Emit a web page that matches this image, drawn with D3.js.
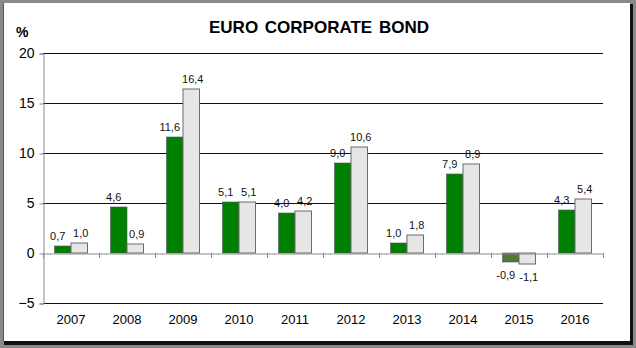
<!DOCTYPE html>
<html><head><meta charset="utf-8">
<script src="https://cdn.jsdelivr.net/npm/d3@7"></script>
<style>html,body{margin:0;padding:0;background:#fff;}svg{display:block;}</style>
</head><body>
<script>
const years = ["2007","2008","2009","2010","2011","2012","2013","2014","2015","2016"];
const seriesA = [0.7, 4.6, 11.6, 5.1, 4.0, 9.0, 1.0, 7.9, -0.9, 4.3];
const seriesB = [1.0, 0.9, 16.4, 5.1, 4.2, 10.6, 1.8, 8.9, -1.1, 5.4];
const yTicks = [-5, 0, 5, 10, 15, 20];
const title = "EURO CORPORATE BOND";

(function () {
const W = 636, H = 348;
const svg = d3.select("body").append("svg").attr("width", W).attr("height", H);
const font = "Arial, Liberation Sans, sans-serif";

// frame
svg.append("rect").attr("x",0).attr("y",0).attr("width",W).attr("height",H).attr("fill","#8a8a8a");
svg.append("rect").attr("x",4).attr("y",4).attr("width",629).attr("height",341).attr("fill","#111");
svg.append("rect").attr("x",3).attr("y",3).attr("width",627).attr("height",338).attr("fill","#fff");
svg.append("line").attr("x1",3.5).attr("x2",3.5).attr("y1",3).attr("y2",341).attr("stroke","#555");

const pL = 43, pR = 603, pT = 53, pB = 303;
const x0 = d3.scaleBand().domain(years).range([pL, pR]).padding(0);
const bw = x0.bandwidth() * 0.295;
const y = d3.scaleLinear().domain([-5, 20]).range([pB, pT]);

// gridlines
svg.append("g").selectAll("line").data(yTicks.filter(d => d !== 0)).join("line")
  .attr("x1", pL).attr("x2", pR)
  .attr("y1", d => Math.round(y(d)) + 0.5).attr("y2", d => Math.round(y(d)) + 0.5)
  .attr("stroke", "#111").attr("stroke-width", 1);

// y axis
const yAxis = d3.axisLeft(y).tickValues(yTicks).tickSize(4).tickPadding(5).tickFormat(d3.format("d"));
const gy = svg.append("g").attr("transform", `translate(${pL + 0.5},0.5)`).call(yAxis);
gy.select(".domain").attr("stroke", "#888");
gy.selectAll(".tick line").attr("stroke", "#888");
gy.selectAll("text").attr("font-family", font).attr("font-size", 14).attr("fill", "#000");

// bars
const g = svg.append("g");
years.forEach((yr, i) => {
  const cx = x0(yr) + x0.bandwidth() / 2;
  const a = seriesA[i], b = seriesB[i];
  g.append("rect").attr("x", cx - bw).attr("width", bw)
    .attr("y", y(Math.max(0, a))).attr("height", Math.abs(y(a) - y(0)))
    .attr("fill", a < 0 ? "#4e7b36" : "#008000").attr("stroke", "#555").attr("stroke-width", 0.6);
  g.append("rect").attr("x", cx).attr("width", bw)
    .attr("y", y(Math.max(0, b))).attr("height", Math.abs(y(b) - y(0)))
    .attr("fill", "#e6e6e6").attr("stroke", "#6a6a6a").attr("stroke-width", 1);
});

// zero axis with category ticks
const xAxis = d3.axisBottom(x0).tickSize(0).tickFormat("");
const gz = svg.append("g").attr("transform", `translate(0,${Math.round(y(0)) + 0.5})`).call(xAxis);
gz.select(".domain").attr("stroke", "#888");
svg.append("g").selectAll("line").data(years.concat(["end"])).join("line")
  .attr("x1", (d, i) => Math.round(pL + i * x0.bandwidth()) + 0.5)
  .attr("x2", (d, i) => Math.round(pL + i * x0.bandwidth()) + 0.5)
  .attr("y1", Math.round(y(0))).attr("y2", Math.round(y(0)) + 5)
  .attr("stroke", "#888");

// x labels
svg.append("g").selectAll("text").data(years).join("text")
  .attr("x", d => x0(d) + x0.bandwidth() / 2).attr("y", 324)
  .attr("text-anchor", "middle").attr("font-family", font).attr("font-size", 13).text(d => d);

// value labels
const fmt = v => v.toFixed(1).replace(".", ",");
const lab = svg.append("g").attr("font-family", font).attr("font-size", 11).attr("fill", "#111").attr("text-anchor", "middle");
years.forEach((yr, i) => {
  const cx = x0(yr) + x0.bandwidth() / 2;
  [[seriesA[i], cx - bw / 2 - 5], [seriesB[i], cx + bw / 2 + 1.5]].forEach(([v, px]) => {
    lab.append("text").attr("x", px)
      .attr("y", v >= 0 ? y(v) - 6 : y(v) + 17).text(fmt(v));
  });
});

// title
svg.append("text").attr("x", 319).attr("y", 33).attr("text-anchor", "middle")
  .attr("font-family", font).attr("font-weight", "bold").attr("font-size", 17).attr("word-spacing", 2).text(title);
svg.append("text").attr("x", 16).attr("y", 37).attr("font-family", font).attr("font-weight", "bold").attr("font-size", 14).text("%");
})();
</script>
</body></html>
